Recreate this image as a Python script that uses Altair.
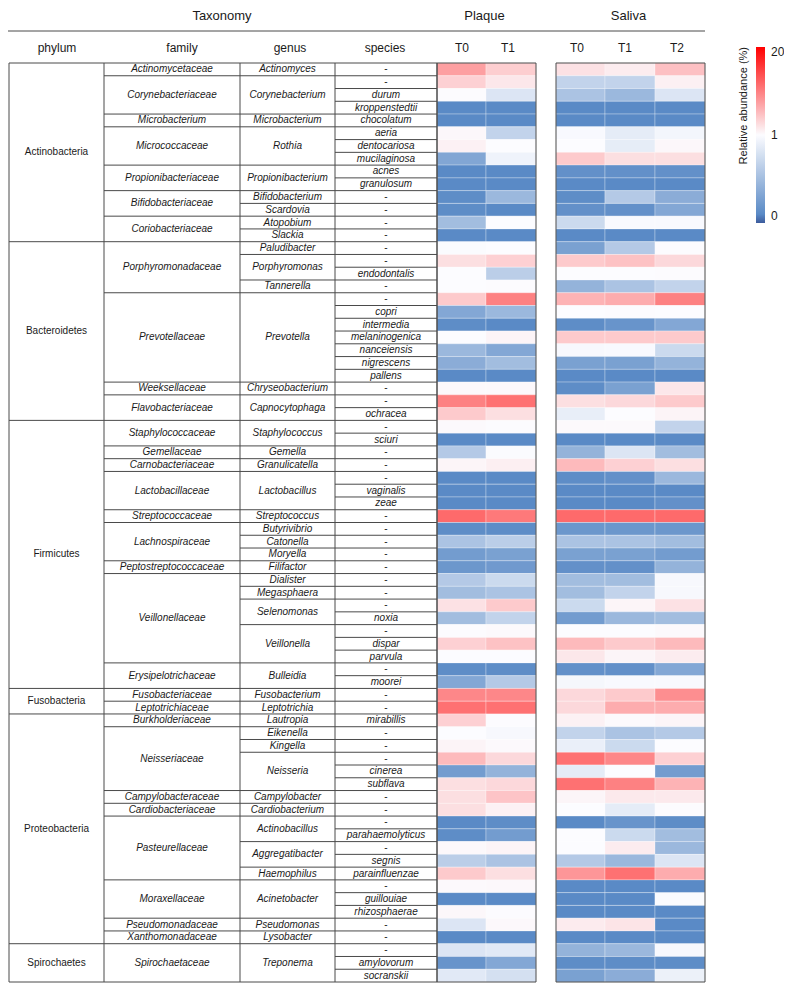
import altair as alt
import pandas as pd

# ---------------- data ----------------
phylum = (["Actinobacteria"] * 14 + ["Bacteroidetes"] * 14 + ["Firmicutes"] * 21
          + ["Fusobacteria"] * 2 + ["Proteobacteria"] * 18 + ["Spirochaetes"] * 3)

family = (["Actinomycetaceae"] + ["Corynebacteriaceae"] * 3 + ["Microbacterium"]
          + ["Micrococcaceae"] * 3 + ["Propionibacteriaceae"] * 2 + ["Bifidobacteriaceae"] * 2
          + ["Coriobacteriaceae"] * 2
          + ["Porphyromonadaceae"] * 4 + ["Prevotellaceae"] * 7 + ["Weeksellaceae"]
          + ["Flavobacteriaceae"] * 2
          + ["Staphylococcaceae"] * 2 + ["Gemellaceae", "Carnobacteriaceae"]
          + ["Lactobacillaceae"] * 3 + ["Streptococcaceae"] + ["Lachnospiraceae"] * 3
          + ["Peptostreptococcaceae"] + ["Veillonellaceae"] * 7 + ["Erysipelotrichaceae"] * 2
          + ["Fusobacteriaceae", "Leptotrichiaceae"]
          + ["Burkholderiaceae"] + ["Neisseriaceae"] * 5 + ["Campylobacteraceae", "Cardiobacteriaceae"]
          + ["Pasteurellaceae"] * 5 + ["Moraxellaceae"] * 3 + ["Pseudomonadaceae", "Xanthomonadaceae"]
          + ["Spirochaetaceae"] * 3)

genus = (["Actinomyces"] + ["Corynebacterium"] * 3 + ["Microbacterium"] + ["Rothia"] * 3
         + ["Propionibacterium"] * 2 + ["Bifidobacterium", "Scardovia", "Atopobium", "Slackia"]
         + ["Paludibacter"] + ["Porphyromonas"] * 2 + ["Tannerella"] + ["Prevotella"] * 7
         + ["Chryseobacterium"] + ["Capnocytophaga"] * 2
         + ["Staphylococcus"] * 2 + ["Gemella", "Granulicatella"] + ["Lactobacillus"] * 3
         + ["Streptococcus", "Butyrivibrio", "Catonella", "Moryella", "Filifactor", "Dialister",
            "Megasphaera"] + ["Selenomonas"] * 2 + ["Veillonella"] * 3 + ["Bulleidia"] * 2
         + ["Fusobacterium", "Leptotrichia"]
         + ["Lautropia", "Eikenella", "Kingella"] + ["Neisseria"] * 3
         + ["Campylobacter", "Cardiobacterium"] + ["Actinobacillus"] * 2 + ["Aggregatibacter"] * 2
         + ["Haemophilus"] + ["Acinetobacter"] * 3 + ["Pseudomonas", "Lysobacter"]
         + ["Treponema"] * 3)

species = (["-", "-", "durum", "kroppenstedtii", "chocolatum", "aeria", "dentocariosa",
            "mucilaginosa", "acnes", "granulosum", "-", "-", "-", "-"]
           + ["-", "-", "endodontalis", "-", "-", "copri", "intermedia", "melaninogenica",
              "nanceiensis", "nigrescens", "pallens", "-", "-", "ochracea"]
           + ["-", "sciuri", "-", "-", "-", "vaginalis", "zeae", "-", "-", "-", "-", "-", "-",
              "-", "-", "noxia", "-", "dispar", "parvula", "-", "moorei"]
           + ["-", "-"]
           + ["mirabillis", "-", "-", "-", "cinerea", "subflava", "-", "-", "-",
              "parahaemolyticus", "-", "segnis", "parainfluenzae", "-", "guillouiae",
              "rhizosphaerae", "-", "-"]
           + ["-", "amylovorum", "socranskii"])

# relative abundance (%) per taxon row, estimated from the colours
plaque_T0 = [8.0, 4.3, 1.05, 0.1, 0.1, 1.4, 1.8, 0.32, 0.1, 0.1, 0.12, 0.12, 0.5, 0.1,
             0.99, 3.2, 1.0, 1.0, 4.8, 0.33, 0.12, 1.0, 0.46, 0.37, 0.1, 1.3, 10.3, 4.8,
             1.2, 0.1, 0.6, 1.5, 0.1, 0.1, 0.1, 12.0, 0.12, 0.55, 0.24, 0.2, 0.6, 0.5, 3.0,
             0.5, 1.05, 4.3, 1.0, 0.12, 0.33, 9.8, 11.5, 4.3, 1.0, 1.6, 6.0, 0.24, 3.2, 3.2,
             3.2, 0.1, 0.12, 1.3, 0.64, 4.8, 1.2, 0.1, 1.4, 0.82, 0.1, 0.82, 0.18, 0.85]
plaque_T1 = [4.5, 2.6, 0.82, 0.1, 0.1, 0.68, 1.0, 0.93, 0.1, 0.1, 0.46, 0.1, 1.0, 0.1,
             1.0, 4.3, 0.64, 1.1, 10.3, 0.46, 0.1, 1.6, 0.33, 0.5, 0.1, 1.3, 11.5, 3.2,
             1.1, 0.1, 0.99, 2.0, 0.1, 0.1, 0.1, 10.9, 0.12, 0.64, 0.28, 0.22, 0.73, 0.55,
             4.8, 0.68, 1.2, 5.4, 1.0, 0.12, 0.6, 9.8, 11.5, 1.1, 0.97, 1.2, 3.7, 0.42, 3.7,
             5.2, 1.8, 0.12, 0.24, 1.6, 0.55, 3.2, 1.3, 0.1, 1.1, 1.3, 0.1, 0.85, 0.33, 0.78]
saliva_T0 = [3.0, 0.68, 0.55, 0.1, 0.1, 0.98, 1.0, 4.8, 0.15, 0.1, 0.12, 0.15, 0.73, 0.1,
             0.28, 4.8, 1.0, 0.42, 6.5, 1.0, 0.12, 4.8, 0.97, 0.28, 0.1, 0.12, 3.2, 0.89,
             1.2, 0.1, 0.42, 6.0, 0.12, 0.1, 0.1, 12.0, 0.2, 0.55, 0.28, 0.15, 0.5, 0.5, 0.73,
             0.24, 1.0, 6.0, 2.6, 0.15, 0.96, 3.7, 3.7, 1.8, 0.68, 0.9, 11.5, 0.87, 11.5, 1.5,
             1.0, 0.1, 1.0, 1.0, 0.6, 8.7, 0.1, 0.1, 0.1, 2.3, 0.1, 0.42, 0.12, 0.28]
saliva_T1 = [2.2, 0.68, 0.46, 0.1, 0.1, 0.87, 0.88, 3.2, 0.15, 0.1, 0.6, 0.15, 0.98, 0.1,
             0.6, 5.4, 1.0, 0.55, 7.0, 1.1, 0.18, 4.8, 0.98, 0.28, 0.1, 0.28, 3.7, 1.0,
             1.2, 0.1, 0.82, 4.3, 0.15, 0.1, 0.1, 12.0, 0.2, 0.55, 0.28, 0.15, 0.5, 0.68, 1.5,
             0.46, 1.0, 4.8, 1.5, 0.15, 0.98, 4.8, 7.0, 1.2, 0.55, 0.73, 9.8, 1.0, 10.3, 2.4,
             0.87, 0.18, 0.73, 2.2, 0.46, 11.5, 0.1, 0.1, 0.1, 2.8, 0.1, 0.46, 0.12, 0.37]
saliva_T2 = [5.5, 1.9, 0.82, 0.1, 0.1, 0.95, 1.4, 3.2, 0.15, 0.1, 0.37, 0.33, 0.98, 0.1,
             1.05, 3.7, 1.1, 0.68, 10.3, 1.0, 0.33, 4.8, 0.73, 0.42, 0.1, 2.6, 4.8, 1.6,
             0.68, 0.1, 0.5, 3.2, 0.46, 0.1, 0.15, 12.0, 0.2, 0.5, 0.24, 0.42, 0.97, 0.97,
             3.0, 0.5, 1.2, 6.0, 2.2, 0.33, 0.98, 9.3, 7.0, 1.5, 0.6, 1.0, 4.3, 0.24, 6.5,
             2.4, 1.05, 0.12, 0.5, 0.46, 0.82, 7.0, 0.1, 0.99, 0.1, 0.1, 0.1, 0.97, 0.12, 0.91]

sample_groups = ["Plaque", "Plaque", "Saliva", "Saliva", "Saliva"]
time_points = ["T0", "T1", "T0", "T1", "T2"]
series = [plaque_T0, plaque_T1, saliva_T0, saliva_T1, saliva_T2]
column_titles = ["phylum", "family", "genus", "species"]

# ---------------- layout ----------------
W, H = 776, 975
TABLE_TOP, TABLE_BOTTOM = 55, 974
N = len(species)
ROW_H = (TABLE_BOTTOM - TABLE_TOP) / N
Y_DOMAIN = [-TABLE_TOP / ROW_H, N + (H - TABLE_BOTTOM) / ROW_H]


def px_row(py):
    return Y_DOMAIN[0] + py / ROW_H


TAX_EDGES = [1, 96, 232, 327, 429]
HEAT_LEFT = [429, 478, 548, 597, 647]
HEAT_RIGHT = [478, 528, 597, 647, 697]
BOX_LEFT = [429, 548]
BOX_RIGHT = [528, 697]
HEAD_X_TAX = [49, 174, 282, 377]
HEAD_X_TIME = [454, 500, 569, 617, 669]
FONT = "Liberation Sans, Arial, Helvetica, sans-serif"
LINE = "#4a4a4a"
TXT = "#1a1a1a"

xs = alt.Scale(domain=[0, W], nice=False, zero=False)
ys = alt.Scale(domain=Y_DOMAIN, reverse=True, nice=False, zero=False)

# ---------------- tables ----------------
levels = [phylum, family, genus, species]
text_rows = []
for lvl in range(4):
    keys = [tuple(levels[j][i] for j in range(lvl + 1)) + ((i,) if lvl == 3 else ())
            for i in range(N)]
    start = 0
    for i in range(1, N + 1):
        if i == N or keys[i] != keys[start]:
            lab = levels[lvl][start]
            text_rows.append(dict(
                label=lab,
                x=(TAX_EDGES[lvl] + TAX_EDGES[lvl + 1]) / 2,
                y=(start + i) / 2,
                style="normal" if (lvl == 0 or lab == "-") else "italic",
            ))
            start = i
tax_text = pd.DataFrame(text_rows)
tax_italic = tax_text[tax_text["style"] == "italic"]
tax_normal = tax_text[tax_text["style"] == "normal"]

hl = []
for k in range(N + 1):
    if k == 0 or k == N or phylum[k] != phylum[k - 1]:
        x1 = TAX_EDGES[0]
    elif family[k] != family[k - 1]:
        x1 = TAX_EDGES[1]
    elif genus[k] != genus[k - 1]:
        x1 = TAX_EDGES[2]
    else:
        x1 = TAX_EDGES[3]
    hl.append(dict(x=x1, x2=TAX_EDGES[4], y=k))
hlines = pd.DataFrame(hl)
vlines = pd.DataFrame([dict(x=e, y=0, y2=N) for e in TAX_EDGES])
boxes = pd.DataFrame([dict(x=a, x2=b, y=0, y2=N) for a, b in zip(BOX_LEFT, BOX_RIGHT)])

cells = []
for c, (g, t, vals) in enumerate(zip(sample_groups, time_points, series)):
    for i, v in enumerate(vals):
        cells.append(dict(group=g, time=t, row=i, row2=i + 1, x=HEAT_LEFT[c],
                          x2=HEAT_RIGHT[c], abundance=v, taxon=genus[i] + " " + species[i]))
cells = pd.DataFrame(cells)

head1 = pd.DataFrame([
    dict(label="Taxonomy", x=214, y=px_row(8)),
    dict(label="Plaque", x=(HEAT_LEFT[0] + HEAT_RIGHT[1]) / 2 - 2, y=px_row(8)),
    dict(label="Saliva", x=(HEAT_LEFT[2] + HEAT_RIGHT[4]) / 2 - 2, y=px_row(8)),
])
head2 = pd.DataFrame(
    [dict(label=t, x=x, y=px_row(40)) for t, x in zip(column_titles, HEAD_X_TAX)]
    + [dict(label=t, x=x, y=px_row(40)) for t, x in zip(time_points, HEAD_X_TIME)]
)
head_rule = pd.DataFrame([dict(x=0, x2=HEAT_RIGHT[-1], y=px_row(23))])

# ---------------- layers ----------------
heat = alt.Chart(cells).transform_calculate(
    pos="datum.abundance <= 1 ? datum.abundance : 1 + (datum.abundance - 1) / 19"
).mark_rect(stroke="white", strokeWidth=0.3).encode(
    x=alt.X("x:Q", scale=xs, axis=None),
    x2="x2:Q",
    y=alt.Y("row:Q", scale=ys, axis=None),
    y2="row2:Q",
    color=alt.Color(
        "pos:Q",
        scale=alt.Scale(domain=[0, 0.1, 1, 2],
                        range=["#3c5b9c", "#5a8ac6", "#fcfcff", "#ff0000"],
                        interpolate="rgb"),
        legend=alt.Legend(
            title="Relative abundance (%)", orient="none", legendX=730, legendY=39,
            direction="vertical", gradientLength=176, gradientThickness=9,
            gradientStrokeWidth=0, values=[0, 1, 2],
            labelExpr="datum.value >= 2 ? '20' : (datum.value >= 1 ? '1' : '0')",
            titleOrient="left", titleAnchor="end", titleFontSize=11,
            titleFontWeight="normal", titleFont=FONT, titleColor=TXT, titlePadding=6,
            labelFont=FONT, labelFontSize=12, labelColor=TXT, labelOffset=6,
            padding=0,
        ),
    ),
    tooltip=["taxon:N", "group:N", "time:N", "abundance:Q"],
)

box_layer = alt.Chart(boxes).mark_rect(filled=False, stroke=LINE, strokeWidth=1).encode(
    x=alt.X("x:Q", scale=xs, axis=None), x2="x2:Q",
    y=alt.Y("y:Q", scale=ys, axis=None), y2="y2:Q")

h_layer = alt.Chart(hlines).mark_rule(stroke=LINE, strokeWidth=1).encode(
    x=alt.X("x:Q", scale=xs, axis=None), x2="x2:Q",
    y=alt.Y("y:Q", scale=ys, axis=None))

v_layer = alt.Chart(vlines).mark_rule(stroke=LINE, strokeWidth=1).encode(
    x=alt.X("x:Q", scale=xs, axis=None),
    y=alt.Y("y:Q", scale=ys, axis=None), y2="y2:Q")

txt_italic = alt.Chart(tax_italic).mark_text(
    font=FONT, fontSize=10, color=TXT, fontStyle="italic",
    baseline="middle", align="center").encode(
    x=alt.X("x:Q", scale=xs, axis=None),
    y=alt.Y("y:Q", scale=ys, axis=None),
    text="label:N")

txt_normal = alt.Chart(tax_normal).mark_text(
    font=FONT, fontSize=10, color=TXT,
    baseline="middle", align="center").encode(
    x=alt.X("x:Q", scale=xs, axis=None),
    y=alt.Y("y:Q", scale=ys, axis=None),
    text="label:N")

head1_layer = alt.Chart(head1).mark_text(font=FONT, fontSize=13, color=TXT,
                                         baseline="middle", align="center").encode(
    x=alt.X("x:Q", scale=xs, axis=None), y=alt.Y("y:Q", scale=ys, axis=None),
    text="label:N")

head2_layer = alt.Chart(head2).mark_text(font=FONT, fontSize=12, color=TXT,
                                         baseline="middle", align="center").encode(
    x=alt.X("x:Q", scale=xs, axis=None), y=alt.Y("y:Q", scale=ys, axis=None),
    text="label:N")

rule_layer = alt.Chart(head_rule).mark_rule(stroke=LINE, strokeWidth=1).encode(
    x=alt.X("x:Q", scale=xs, axis=None), x2="x2:Q",
    y=alt.Y("y:Q", scale=ys, axis=None))

chart = alt.layer(
    heat, box_layer, h_layer, v_layer, txt_italic, txt_normal,
    head1_layer, head2_layer, rule_layer
).properties(
    width=W, height=H, padding=0,
    autosize=alt.AutoSizeParams(type="none"),
).configure_view(stroke=None)

chart.save("out.html", embed_options={"renderer": "svg", "actions": False})
